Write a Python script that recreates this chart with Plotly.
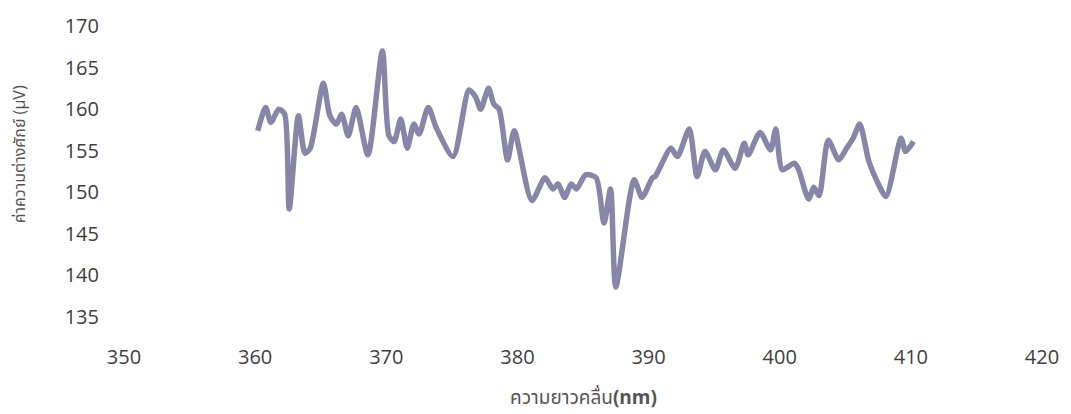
import plotly.graph_objects as go

# Wavelength (nm) and measured potential difference (µV)
wavelength = [360.2, 360.8, 361.2, 361.8, 362.25, 362.6, 363.3, 363.8, 364.2, 365.2,
              365.7, 366.2, 366.6, 367.1, 367.7, 368.6, 369.7, 370.2, 370.6, 371.1,
              371.6, 372.1, 372.5, 373.2, 373.8, 375.1, 376.3, 376.8, 377.2, 377.8,
              378.2, 378.6, 379.25, 379.75, 381.1, 382.1, 382.7, 383.1, 383.6, 384.1,
              384.5, 385.2, 386.0, 386.6, 387.1, 387.5, 388.9, 389.5, 390.3, 390.5,
              391.7, 392.2, 393.1, 393.7, 394.3, 395.1, 395.7, 396.6, 397.3, 397.6,
              398.5, 399.3, 399.7, 400.2, 401.1, 401.4, 402.2, 402.6, 403.0, 403.7,
              404.5, 405.1, 405.6, 406.1, 406.8, 407.4, 408.1, 409.25, 409.6, 410.2]
potential = [157.4, 160.2, 158.4, 160.0, 159.4, 148.0, 159.2, 154.7, 155.3, 163.1,
             159.2, 158.2, 159.4, 156.8, 160.2, 154.5, 167.0, 156.8, 156.1, 158.8,
             155.3, 158.2, 157.0, 160.2, 157.8, 154.3, 162.3, 161.5, 160.0, 162.5,
             160.6, 160.0, 153.9, 157.4, 149.0, 151.75, 150.4, 151.0, 149.4, 151.0,
             150.4, 152.1, 151.75, 146.3, 150.4, 138.6, 151.5, 149.4, 151.75, 151.9,
             155.3, 154.3, 157.6, 151.9, 154.9, 152.7, 155.1, 152.9, 155.9, 154.5,
             157.2, 155.1, 157.6, 152.7, 153.5, 152.9, 149.2, 150.6, 149.6, 156.25,
             153.9, 155.3, 156.5, 158.2, 153.7, 151.4, 149.5, 156.5, 154.9, 156.1]

x_ticks = [350, 360, 370, 380, 390, 400, 410, 420]
y_ticks = [135, 140, 145, 150, 155, 160, 165, 170]

fig = go.Figure()
fig.add_trace(go.Scatter(
    x=wavelength, y=potential, mode="lines",
    line=dict(color="#8886a8", width=5.5, shape="spline", smoothing=0.7),
    showlegend=False, hoverinfo="x+y",
))

tick_font = dict(family="Open Sans, Noto Sans, sans-serif", size=20, color="#404040")

fig.update_xaxes(
    range=[350, 420], tickvals=x_ticks, ticktext=[str(v) for v in x_ticks],
    showgrid=False, zeroline=False, showline=False,
    ticks="outside", ticklen=22, tickcolor="rgba(0,0,0,0)",
    tickfont=tick_font,
)
fig.update_yaxes(
    range=[135, 170], tickvals=y_ticks, ticktext=[str(v) for v in y_ticks],
    showgrid=False, zeroline=False, showline=False,
    ticks="outside", ticklen=20, tickcolor="rgba(0,0,0,0)",
    tickfont=tick_font,
)

title_font = dict(family="Noto Sans Thai, Noto Sans, DejaVu Sans, sans-serif", color="#555555")

fig.add_annotation(
    text="ความยาวคลื่น<b>(nm)</b>", xref="paper", yref="paper",
    x=0.5, y=-0.28, xanchor="center", yanchor="middle", showarrow=False,
    font=dict(size=19, **title_font),
)
fig.add_annotation(
    text="ค่าความต่างศักย์ (µV)", xref="paper", yref="paper",
    x=-0.113, y=0.56, xanchor="center", yanchor="middle", textangle=-90,
    showarrow=False, font=dict(size=16, **title_font),
)

fig.update_layout(
    width=1071, height=414,
    margin=dict(l=124, r=27, t=18, b=97),
    paper_bgcolor="#ffffff", plot_bgcolor="#ffffff",
)

fig.write_html("out.html")
